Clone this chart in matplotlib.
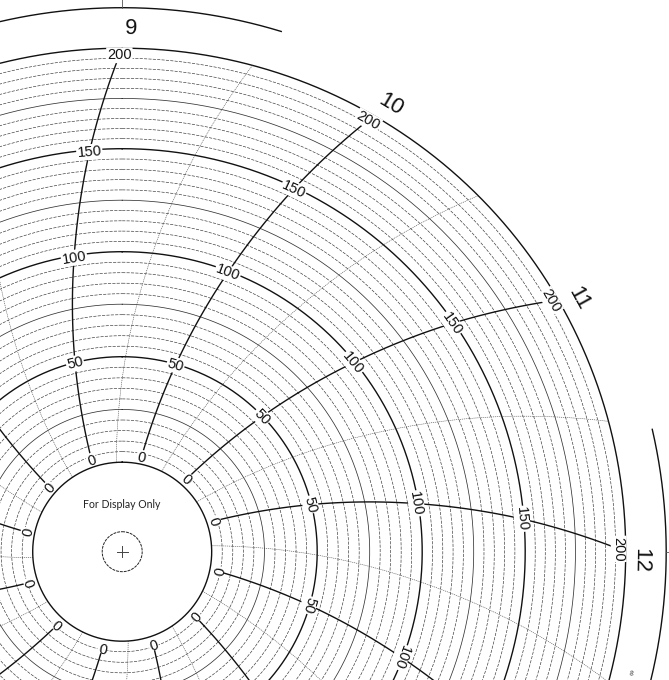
import matplotlib
matplotlib.use('Agg')
import matplotlib.pyplot as plt
import numpy as np

plt.rcParams['font.family'] = ['Liberation Sans', 'DejaVu Sans']

W, H = 669, 680
CX, CY = 122.2, 551.7     # chart centre in pixels
R_MAX = 560

# chart data
scale_values = [0, 50, 100, 150, 200]
scale_radii = [89.5, 195, 300, 403, 503.5]   # pixel radius of each value
ring_values = np.arange(0, 201, 5)
major_rings = [0, 50, 100, 150, 200]
semi_rings = [25, 75, 125, 175]
hour_angles = np.arange(0, 360, 30)          # where each hour spoke meets 200
half_angles = hour_angles + 15
hour_names = [9, 10, 11, 12]
hour_name_angles = [0, 30, 60, 90]
hour_name_radii = [523, 521, 522, 518]
label_values = [0, 50, 100, 150, 200]
label_places = [3, 49.5, 99, 149, 196.5]
lag_degrees = [-18.8, -14.0, -9.2, -4.6, 0.0]  # spoke lag at each value
outer_arcs = [(-20, 17), (77, 110)]
arc_ticks = [0, 90]
R_ARC = 544


def to_r(v):
    return np.interp(v, scale_values, scale_radii)


def spoke(end_angle, v):
    return np.radians(end_angle + np.interp(v, scale_values, lag_degrees))


fig = plt.figure(figsize=(W / 100, H / 100), dpi=100)
ax = fig.add_axes([(CX - R_MAX) / W, (H - CY - R_MAX) / H, 2 * R_MAX / W, 2 * R_MAX / H],
                  projection='polar')
ax.set_theta_zero_location('N')
ax.set_theta_direction(-1)
ax.set_rlim(0, R_MAX)
ax.axis('off')

theta = np.radians(np.linspace(0, 360, 3000))

# rings
for v in ring_values:
    ls = '-'
    z = 1
    if v in major_rings:
        lw, col = 1.0, '#111111'
    elif v in semi_rings:
        lw, col = 0.55, '#333333'
    else:
        lw, col = 0.45, '#333333'
        ls = (0, (5, 2))  # the fine rings break up in the scan
    if v == 0:
        z = 4  # zero labels sit right against the hole, keep its edge whole
    ax.plot(theta, np.full_like(theta, to_r(v)), color=col, lw=lw, ls=ls, zorder=z, snap=False)

v_line = np.linspace(0, 200, 100)

# half hour lines, thin dotted
for a in half_angles:
    ax.plot(spoke(a, v_line), to_r(v_line), color='#444444', lw=0.4, ls=(0, (2, 1.5)), zorder=2)

# hour spokes and their value labels
v_spoke = v_line[v_line < 197]
for a in hour_angles:
    ax.plot(spoke(a, v_spoke), to_r(v_spoke), color='#111111', lw=1.0, zorder=2)
    for v, place in zip(label_values, label_places):
        t = spoke(a, place)
        r = to_r(place)
        px, py = CX + r * np.sin(t), CY - r * np.cos(t)
        if px < 7 or px > W - 7 or py < 7 or py > H - 7:
            continue
        ax.text(t, r, str(v), rotation=-np.degrees(t), rotation_mode='anchor',
                ha='center', va='center', fontsize=10.5, color='#111111', zorder=3,
                bbox=dict(facecolor='white', edgecolor='none', pad=0.6))

# outer arcs with hour numbers
for a0, a1 in outer_arcs:
    t = np.radians(np.linspace(a0, a1, 200))
    ax.plot(t, np.full_like(t, R_ARC), color='#111111', lw=1.0, zorder=1)
for a in arc_ticks:
    ax.plot(np.radians([a, a]), [R_ARC, R_MAX], color='#555555', lw=0.6, zorder=1)
for name, a, r in zip(hour_names, hour_name_angles, hour_name_radii):
    ax.text(np.radians(a + 1), r, str(name), rotation=-(a + 1),
            rotation_mode='anchor', ha='center', va='center', fontsize=16, color='#111111')

# centre hub
ax.plot(theta, np.full_like(theta, 20), color='#222222', lw=0.7, ls=(0, (3, 1)))
ax.plot(np.radians([90, 270]), [5.5, 5.5], color='#444444', lw=0.7)
ax.plot(np.radians([0, 180]), [5.5, 5.5], color='#444444', lw=0.7)

fig.text(122 / W, 1 - 505 / H, 'For Display Only', ha='center', va='center', fontsize=7.6,
         family=['Lato', 'DejaVu Sans'], color='#222222')
fig.text(631 / W, 1 - 674 / H, '8', ha='center', va='center', fontsize=5, color='#333333',
         rotation=-15)

fig.savefig('out.png', dpi=100)
